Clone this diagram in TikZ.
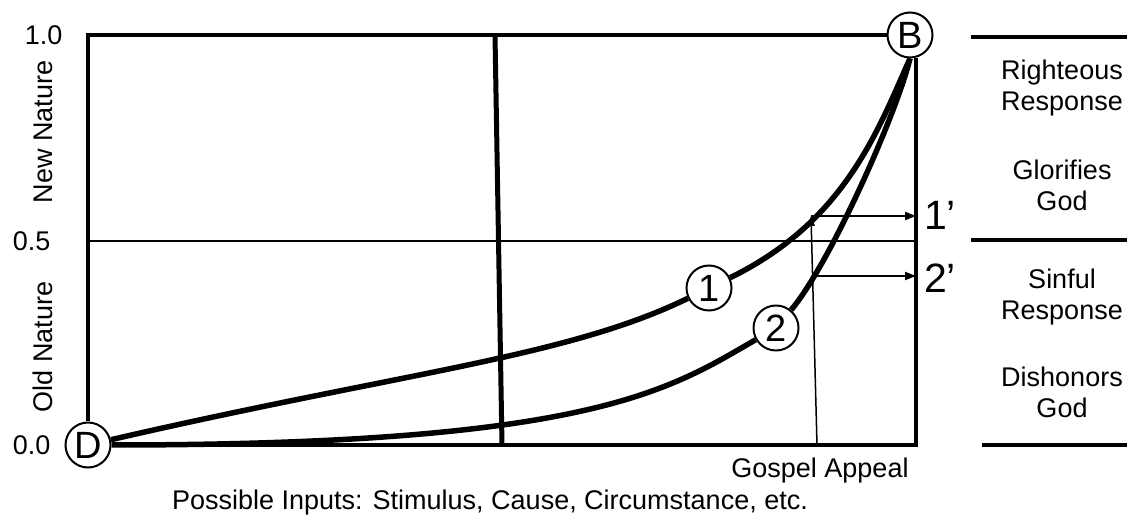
\documentclass[tikz,border=0pt]{standalone}
\usepackage{fontspec}
\setmainfont{Liberation Sans}
\usetikzlibrary{arrows.meta}

\begin{document}
\begin{tikzpicture}[x=1pt,y=1pt,
  txt/.style={font=\fontsize{27}{31}\selectfont},
  bigtxt/.style={font=\fontsize{41}{41}\selectfont},
  ptcirc/.style={circle,draw,line width=2pt,fill=white,inner sep=0pt,
    minimum size=45pt,font=\fontsize{38}{38}\selectfont},
  boxline/.style={line width=4pt},
  curveline/.style={line width=5.5pt},
  thinline/.style={line width=1.3pt},
  arr/.style={line width=2pt,-{Triangle[length=11pt,width=8pt]}}]
  \useasboundingbox (0,0) rectangle (1127,522);
  \coordinate (TL) at (88,487);
  \coordinate (BR) at (916,77);
  \node[ptcirc] (D) at (88,77) {D};
  \node[ptcirc] (B) at (910,487) {B};
  \node[ptcirc] (one) at (709,234) {1};
  \node[ptcirc] (two) at (776,194) {2};
  \draw[boxline] (B.west) -- (TL) -- (D.north);
  \draw[boxline] (D.east) -- (BR) -- (BR |- B.south);
  \draw[boxline,line width=5pt] (495,487) -- (502,77);
  \draw[thinline] (88,281) -- (916,281);
  \draw[curveline] (D) to[out=13,in=206,out distance=300pt,in distance=135pt] (one)
    to[out=26,in=246,out distance=127pt,in distance=80pt] (B.south);
  \draw[curveline] (D) to[out=0,in=210,out distance=480pt,in distance=100pt] (two)
    to[out=50,in=256,out distance=60pt,in distance=60pt] (B.south);
  \coordinate (g0) at (817,77);
  \coordinate (g1) at (811,306);
  \coordinate (g2) at (815,246);
  \draw[line width=1.5pt,-{Triangle[length=10pt,width=7pt]}] (g0) -- (g1);
  \draw[arr] (g1) -- (g1 -| BR);
  \draw[arr] (g2) -- (g2 -| BR);
  \node[bigtxt] (onep) at (940,307) {1’};
  \node[bigtxt] (twop) at (940,244) {2’};
  \node[txt,anchor=east] (l10) at (66,487) {1.0};
  \node[txt,anchor=east] (l05) at (54,281) {0.5};
  \node[txt,anchor=east] (l00) at (54,77) {0.0};
  \node[txt,rotate=90] (newn) at (43,390) {New Nature};
  \node[txt,rotate=90] (oldn) at (43,175) {Old Nature};
  \node[txt] (gospel) at (820,51) {Gospel Appeal};
  \node[txt] (inputs) at (490,19) {Possible Inputs: Stimulus, Cause, Circumstance, etc.};
  \foreach \yy/\xs in {485/971,282/971,77/982}
    \draw[boxline] (\xs,\yy) -- (1127,\yy);
  \node[txt,align=center] (right) at (1062,434) {Righteous\\Response};
  \node[txt,align=center] (glory) at (1062,337) {Glorifies\\God};
  \node[txt,align=center] (sinful) at (1062,225) {Sinful\\Response};
  \node[txt,align=center] (dishon) at (1062,130) {Dishonors\\God};
\end{tikzpicture}
\end{document}
